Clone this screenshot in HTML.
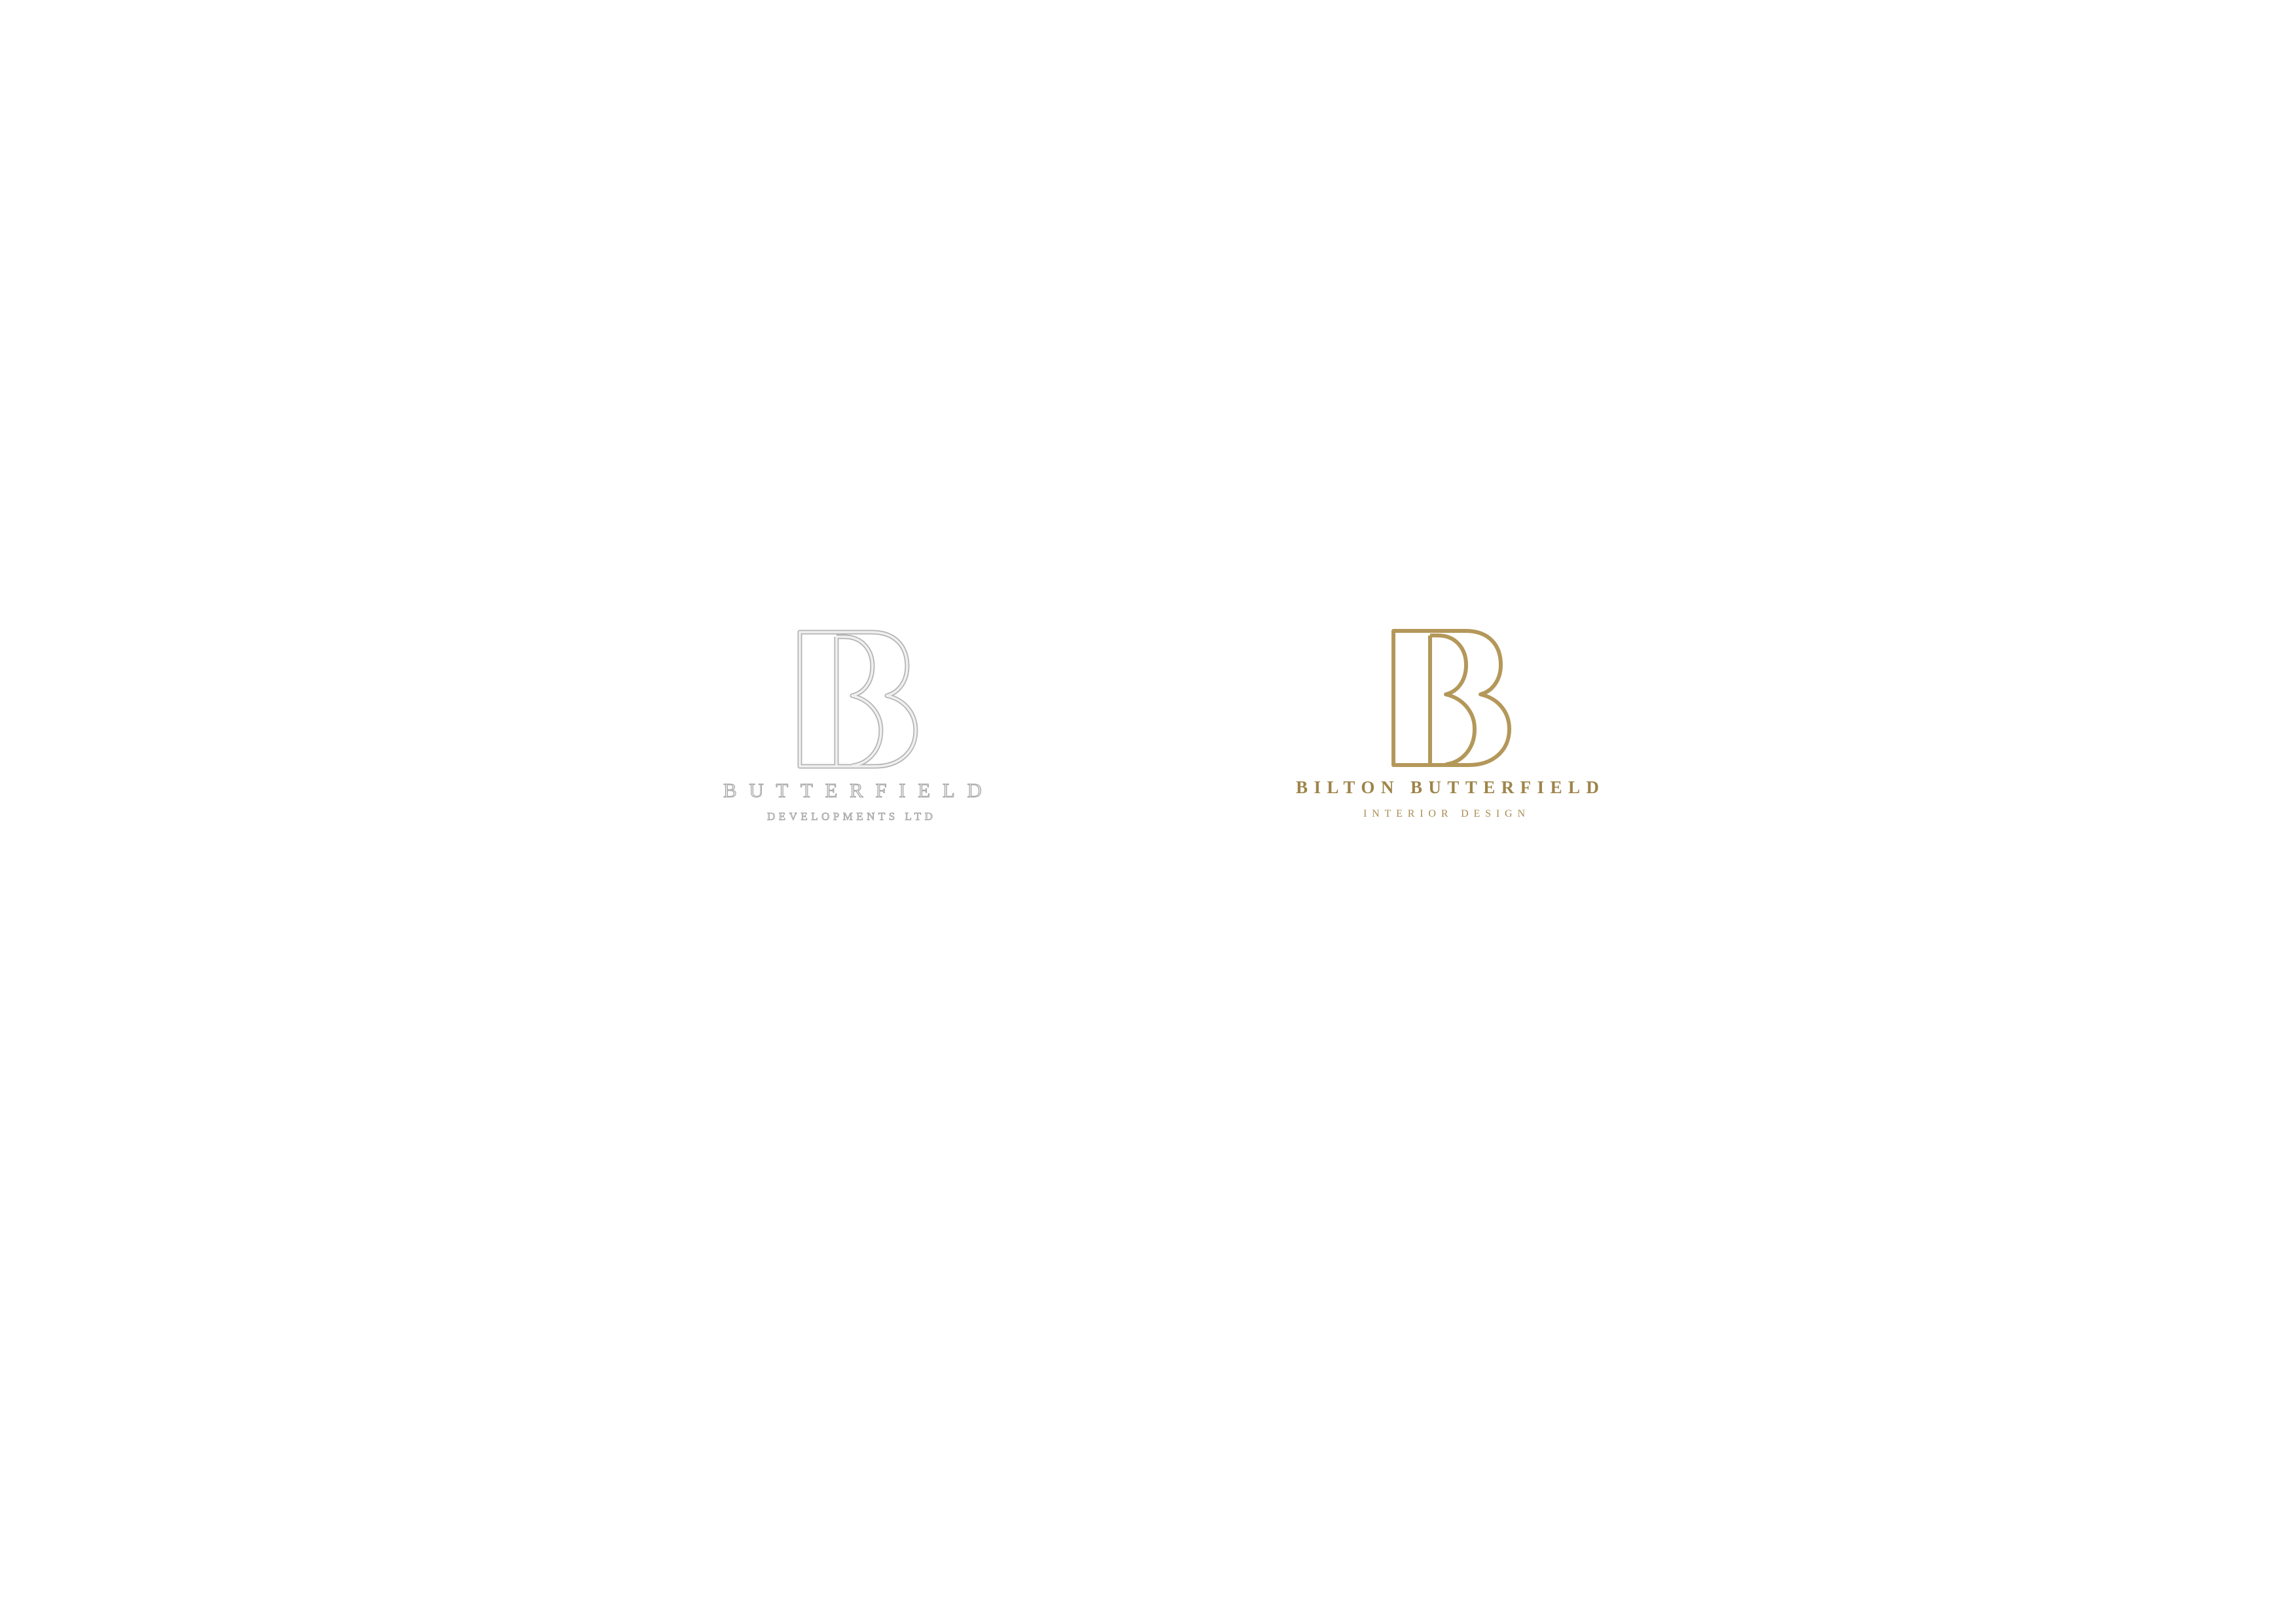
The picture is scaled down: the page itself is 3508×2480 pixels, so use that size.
<!DOCTYPE html>
<html><head><meta charset="utf-8"><style>
html,body{margin:0;padding:0;background:#fff;}
svg{display:block;}
</style></head><body>
<svg width="3508" height="2480" viewBox="0 0 3508 2480" xmlns="http://www.w3.org/2000/svg">
<defs>
<linearGradient id="gold" gradientUnits="userSpaceOnUse" x1="2129" y1="964" x2="2306" y2="1170">
<stop offset="0" stop-color="#b4985a"/>
<stop offset="0.45" stop-color="#e6cd87"/>
<stop offset="1" stop-color="#b39554"/>
</linearGradient>
<g id="logo">
<path d="M0,0 H110 C148,0 164,24 164,52 C164,74 152,92 133,97 C160,103 177,124 177,150 C177,183 152,205 115,205 H0 Z"/>
<path d="M56,7 V205"/>
<path d="M56,7 H68 C96,7 111,28 111,52 C111,74 100,92 80,97 C106,103 124,124 124,150 C124,181 104,201 80,204"/>
</g>
</defs>
<g transform="translate(1222,966)" fill="none" stroke-linejoin="round">
<use href="#logo" stroke="#b4b4b4" stroke-width="7"/>
<use href="#logo" stroke="#f0f0f0" stroke-width="3.5"/>
</g>
<text x="1105" y="1218" font-family="Liberation Serif, serif" font-size="31" fill="#e2e2e2" stroke="#9a9a9a" stroke-width="0.9" textLength="395" lengthAdjust="spacing">BUTTERFIELD</text>
<text x="1172" y="1253" font-family="Liberation Serif, serif" font-size="17" fill="#d8d8d8" stroke="#8e8e8e" stroke-width="0.6" textLength="253" lengthAdjust="spacing">DEVELOPMENTS LTD</text>
<g transform="translate(2129,964)" fill="none" stroke-linejoin="round">
<use href="#logo" stroke="url(#gold)" stroke-width="6"/>
</g>
<text x="1980" y="1212" font-family="Liberation Serif, serif" font-size="27" font-weight="bold" fill="#9e8449" textLength="463" lengthAdjust="spacing">BILTON BUTTERFIELD</text>
<text x="2083" y="1248" font-family="Liberation Serif, serif" font-size="16" fill="#a88d52" textLength="247" lengthAdjust="spacing">INTERIOR DESIGN</text>
</svg>
</body></html>
